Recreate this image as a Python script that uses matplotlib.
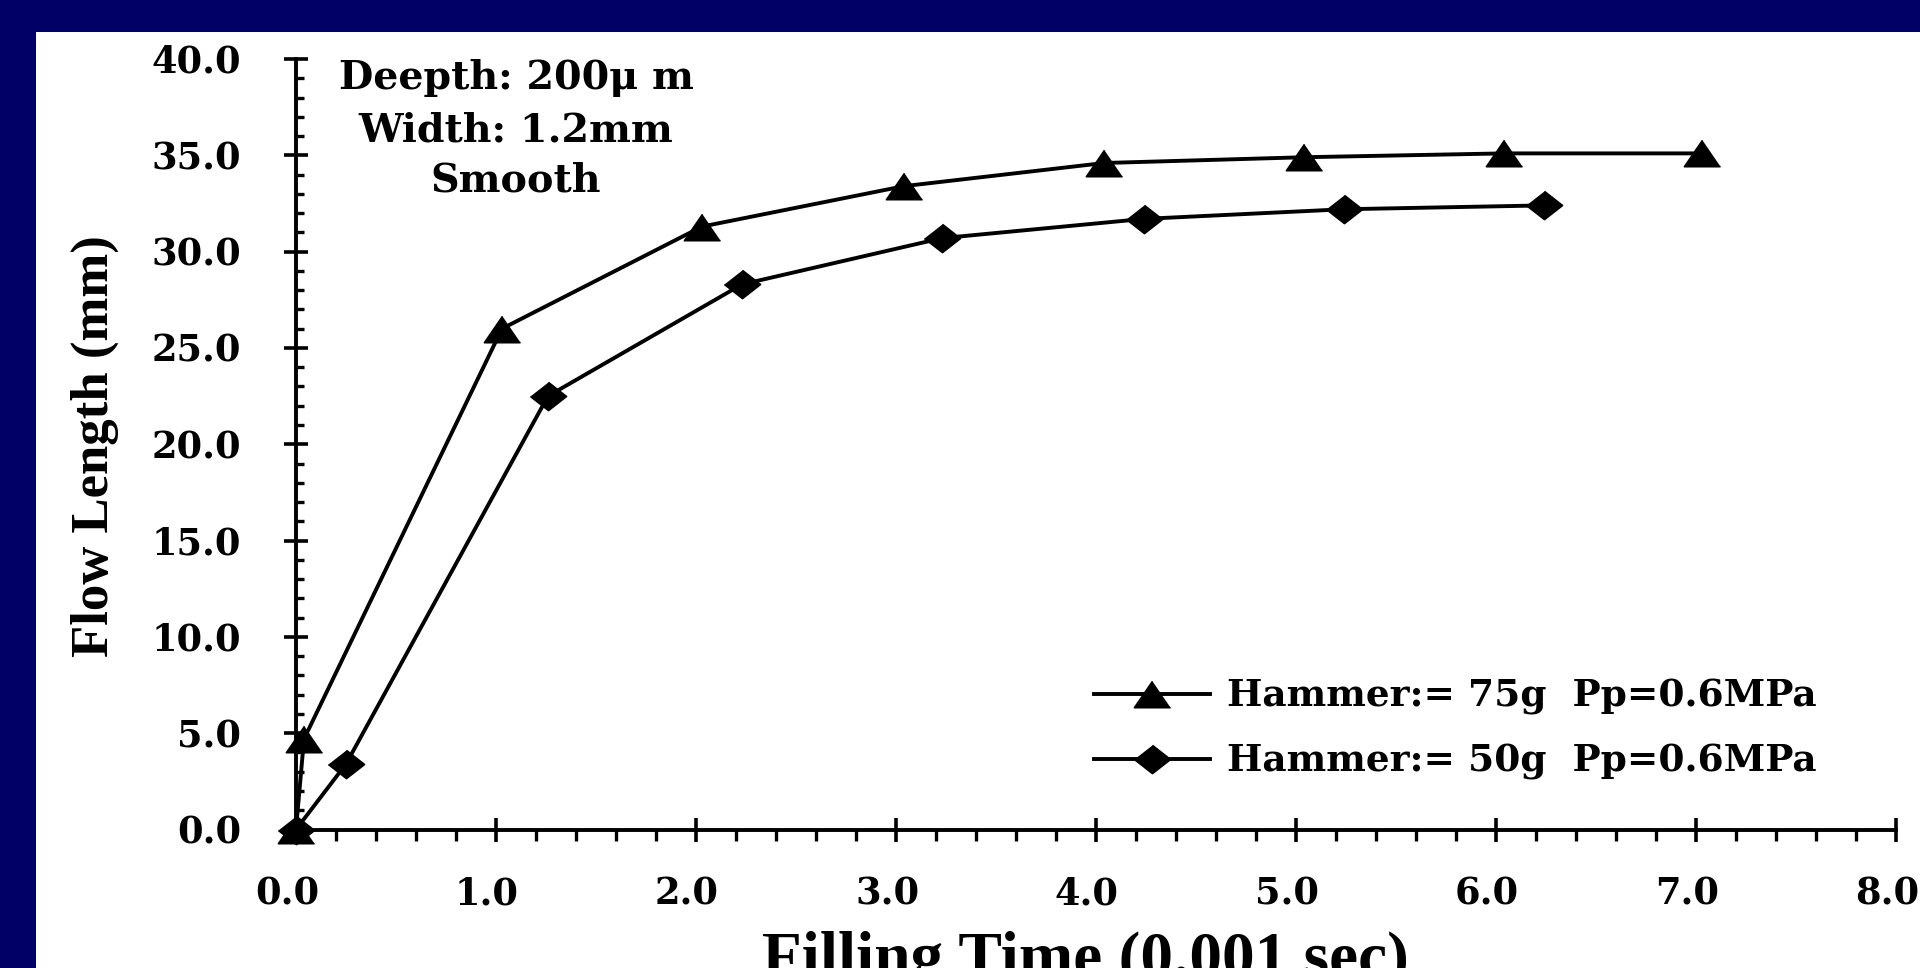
import matplotlib
matplotlib.use("Agg")
import matplotlib.pyplot as plt
from matplotlib.patches import Rectangle
from matplotlib.ticker import MultipleLocator, FormatStrFormatter
from matplotlib.transforms import ScaledTranslation

# ---- data ----
tri_x = [0.0, 0.04, 1.03, 2.03, 3.04, 4.04, 5.04, 6.04, 7.03]
tri_y = [0.0, 4.7, 26.0, 31.3, 33.4, 34.6, 34.9, 35.1, 35.1]
dia_x = [0.0, 0.25, 1.26, 2.23, 3.23, 4.24, 5.24, 6.24]
dia_y = [0.0, 3.4, 22.5, 28.3, 30.7, 31.7, 32.2, 32.4]
series_labels = ["Hammer:= 75g  Pp=0.6MPa", "Hammer:= 50g  Pp=0.6MPa"]
note_lines = ["Deepth: 200\u03bc m", "Width: 1.2mm", "Smooth"]
x_label = "Filling Time (0.001 sec)"
y_label = "Flow Length (mm)"

W, H = 1920, 968
fig = plt.figure(figsize=(W / 100, H / 100), dpi=100)
fig.patch.set_facecolor("#000066")
fig.add_artist(Rectangle((36 / W, 0), 1 - 36 / W, (H - 32) / H,
                         transform=fig.transFigure, facecolor="white",
                         edgecolor="none", zorder=-5))

ax = fig.add_axes([296 / W, (H - 829.5) / H, 1600 / W, 770.5 / H])
ax.set_facecolor("none")
ax.set_xlim(0, 8)
ax.set_ylim(0, 40)
for s in ("top", "right"):
    ax.spines[s].set_visible(False)
for s in ("left", "bottom"):
    ax.spines[s].set_linewidth(2.8)
    ax.spines[s].set_color("black")

tri_marker = [(0, 1), (-1.37, -1), (1.37, -1)]
dia_marker = [(0, 1), (1.28, 0), (0, -1), (-1.28, 0)]

ax.plot(tri_x, tri_y, color="black", lw=2.8, marker=tri_marker, ms=26,
        mfc="black", mec="black", mew=1.2, clip_on=False, zorder=3,
        label=series_labels[0])
ax.plot(dia_x, dia_y, color="black", lw=2.8, marker=dia_marker, ms=26,
        mfc="black", mec="black", mew=1.2, clip_on=False, zorder=3,
        label=series_labels[1])

ax.xaxis.set_major_locator(MultipleLocator(1.0))
ax.xaxis.set_minor_locator(MultipleLocator(0.2))
ax.yaxis.set_major_locator(MultipleLocator(5.0))
ax.yaxis.set_minor_locator(MultipleLocator(1.0))
ax.xaxis.set_major_formatter(FormatStrFormatter("%.1f"))
ax.yaxis.set_major_formatter(FormatStrFormatter("%.1f"))
ax.tick_params(axis="y", which="major", direction="inout", length=17,
               width=2.6, pad=31)
ax.tick_params(axis="y", which="minor", direction="in", length=5.5, width=2.4)
ax.tick_params(axis="x", which="major", direction="inout", length=17,
               width=2.6, pad=25)
ax.tick_params(axis="x", which="minor", direction="out", length=8, width=2.4)
shift = ScaledTranslation(-9 / 100, 0, fig.dpi_scale_trans)
for lab in ax.get_xticklabels():
    lab.set_transform(lab.get_transform() + shift)
for lab in ax.get_xticklabels() + ax.get_yticklabels():
    lab.set_fontfamily("DejaVu Serif")
    lab.set_fontweight("bold")
    lab.set_fontsize(26.5)

# axis labels (placed in figure pixels)
fig.text(108 / W, (H - 446) / H, y_label, rotation=90, rotation_mode="anchor",
         ha="center", va="baseline", family="Liberation Serif",
         weight="bold", size=38)
fig.text(1085 / W, (H - 977) / H, x_label, ha="center", va="baseline",
         family="Liberation Serif", weight="bold", size=47)

# annotation
for line, base in zip(note_lines, [89, 142, 192]):
    fig.text(516 / W, (H - base) / H, line, ha="center", va="baseline",
             family="DejaVu Serif", weight="bold", size=28.5)

leg = ax.legend(loc="center left", bbox_to_anchor=(1094 / W, (H - 729) / H),
                bbox_transform=fig.transFigure, frameon=False, borderpad=0,
                borderaxespad=0, handlelength=3.09, handletextpad=0.45,
                labelspacing=0.74,
                prop=dict(family="DejaVu Serif", weight="bold", size=27))

fig.savefig("out.png", dpi=100, facecolor=fig.get_facecolor())
